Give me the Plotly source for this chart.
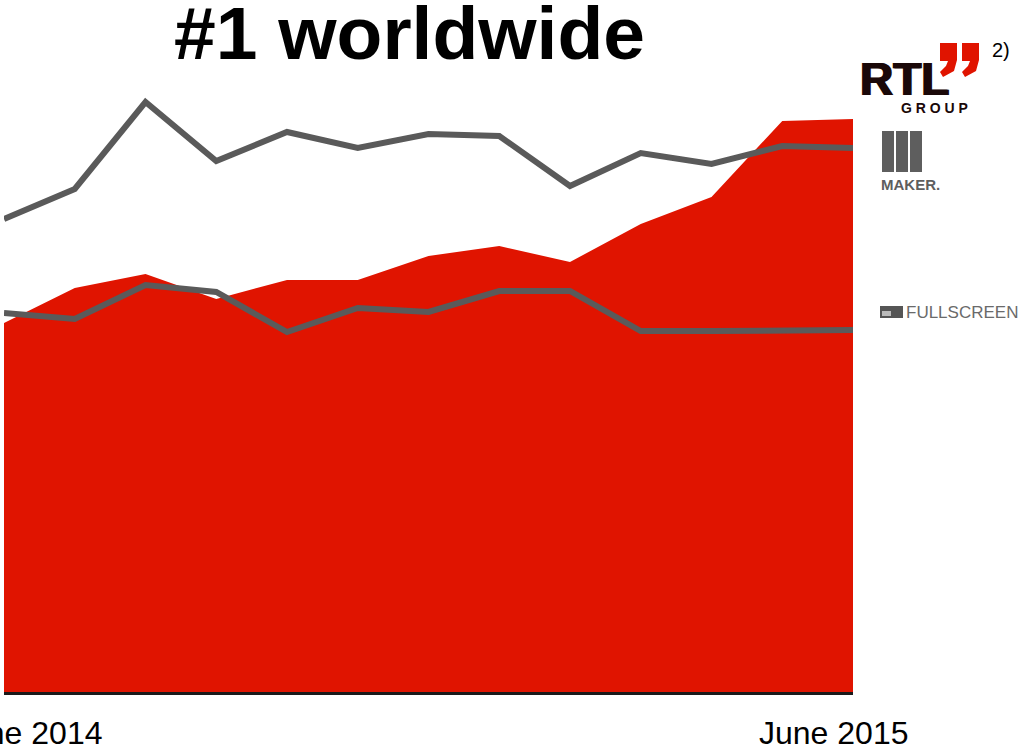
import plotly.graph_objects as go

# ---- data (relative audience index) ----
months = ["Jun 2014", "Jul 2014", "Aug 2014", "Sep 2014", "Oct 2014", "Nov 2014",
          "Dec 2014", "Jan 2015", "Feb 2015", "Mar 2015", "Apr 2015", "May 2015", "Jun 2015"]
rtl_group = [369, 404, 418, 393, 412, 412, 436, 446, 430, 468, 495, 571, 573]
maker = [473, 503, 590, 531, 560, 544, 558, 556, 506, 539, 528, 546, 544]
fullscreen = [379, 373, 407, 400, 360, 384, 380, 401, 401, 361, 361, 361, 362]
x_labels = ["June 2014", "June 2015"]

W, H = 1025, 748
ML, MR, MT, MB = 4, 172, 90, 56
PW, PH = W - ML - MR, H - MT - MB


def px(x):
    return (x - ML) / PW


def py(y):
    return (H - MB - y) / PH


FONT = "Liberation Sans, Arial, sans-serif"
RED = "#E01400"
GREY = "#5a5a5a"

fig = go.Figure()
fig.add_trace(go.Scatter(x=months, y=rtl_group, mode="lines", fill="tozeroy",
                         fillcolor=RED, line=dict(width=0, color=RED),
                         name="RTL Group", hoverinfo="x+y"))
fig.add_trace(go.Scatter(x=months, y=maker, mode="lines",
                         line=dict(width=6, color=GREY), name="Maker"))
fig.add_trace(go.Scatter(x=months, y=fullscreen, mode="lines",
                         line=dict(width=6, color=GREY), name="Fullscreen"))

annotations = [
    dict(text="<b>#1 worldwide</b>", x=px(409), y=py(33), xref="paper", yref="paper",
         xanchor="center", yanchor="middle", showarrow=False,
         font=dict(family=FONT, size=75, color="#000000")),
    dict(text=x_labels[0], x=px(104), y=py(733), xref="paper", yref="paper",
         xanchor="right", yanchor="middle", showarrow=False,
         font=dict(family=FONT, size=32, color="#000000")),
    dict(text=x_labels[1], x=px(910), y=py(733), xref="paper", yref="paper",
         xanchor="right", yanchor="middle", showarrow=False,
         font=dict(family=FONT, size=32, color="#000000")),
    dict(text="<b>G R O U P</b>", x=px(934), y=py(108), xref="paper", yref="paper",
         xanchor="center", yanchor="middle", showarrow=False,
         font=dict(family=FONT, size=14, color="#1a0808")),
    dict(text="2)", x=px(990), y=py(50), xref="paper", yref="paper",
         xanchor="left", yanchor="middle", showarrow=False,
         font=dict(family=FONT, size=20, color="#000000")),
    # Maker logo text
    dict(text="<b>MAKER.</b>", x=px(879), y=py(184), xref="paper", yref="paper",
         xanchor="left", yanchor="middle", showarrow=False,
         font=dict(family="Liberation Sans Narrow, " + FONT, size=15, color="#5e5e5e")),
    # Fullscreen logo text
    dict(text="FULLSCREEN", x=px(904), y=py(312), xref="paper", yref="paper",
         xanchor="left", yanchor="middle", showarrow=False,
         font=dict(family=FONT, size=17, color="#6a6a6a")),
]
# heavy "RTL" wordmark (overprinted for extra weight)
for dx in (0, 1, 2):
    annotations.append(
        dict(text="<b>RTL</b>", x=px(857 + dx), y=py(79), xref="paper", yref="paper",
             xanchor="left", yanchor="middle", showarrow=False,
             font=dict(family=FONT, size=46, color="#1a0808")))


def quote_path(x0):
    pts = [(x0, 43), (x0 + 17, 43), (x0 + 17, 60), (x0 + 14, 71), (x0 + 3, 77),
           (x0, 72), (x0 + 6, 66), (x0 + 8, 61), (x0, 61)]
    s = "M " + " L ".join(f"{px(a):.5f},{py(b):.5f}" for a, b in pts) + " Z"
    return s


shapes = [
    dict(type="path", path=quote_path(940), xref="paper", yref="paper",
         fillcolor=RED, line=dict(width=0)),
    dict(type="path", path=quote_path(962), xref="paper", yref="paper",
         fillcolor=RED, line=dict(width=0)),
]
for bx in (882, 896, 910):
    shapes.append(dict(type="rect", xref="paper", yref="paper",
                       x0=px(bx), x1=px(bx + 12), y0=py(172), y1=py(131),
                       fillcolor="#5e5e5e", line=dict(width=0)))
shapes.append(dict(type="rect", xref="paper", yref="paper",
                   x0=px(880), x1=px(903), y0=py(318), y1=py(306),
                   fillcolor="#555555", line=dict(width=0)))
shapes.append(dict(type="rect", xref="paper", yref="paper",
                   x0=px(882), x1=px(891), y0=py(316), y1=py(311),
                   fillcolor="#bbbbbb", line=dict(width=0)))

fig.update_layout(
    width=W, height=H,
    margin=dict(l=ML, r=MR, t=MT, b=MB, pad=0),
    paper_bgcolor="white", plot_bgcolor="white",
    showlegend=False,
    annotations=annotations,
    shapes=shapes,
    xaxis=dict(type="category", range=[0, len(months) - 1], showgrid=False,
               zeroline=False, showticklabels=False, ticks="",
               showline=True, linecolor="#1a1a1a", linewidth=3, fixedrange=True),
    yaxis=dict(range=[0, PH], showgrid=False, zeroline=False,
               showticklabels=False, ticks="", showline=False, fixedrange=True),
)

fig.write_html("out.html", config={"displayModeBar": False},
               post_script="document.body.style.margin='0px';document.body.style.overflow='hidden';")
